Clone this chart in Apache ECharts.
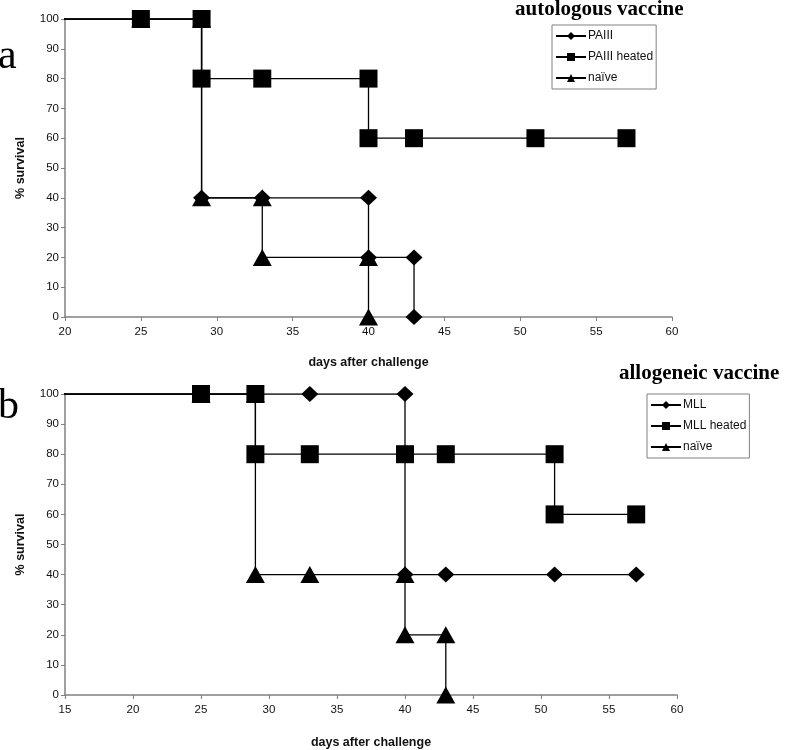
<!DOCTYPE html>
<html>
<head>
<meta charset="utf-8">
<script src="https://cdn.jsdelivr.net/npm/echarts@6/dist/echarts.min.js"></script>
<style>
html,body{margin:0;padding:0;background:#fff;}
#chart{width:787px;height:750px;}
</style>
</head>
<body>
<div id="chart"></div>
<script>
// ---- Panel a: autologous vaccine ----
const autoTitle = 'autologous vaccine';
const autoNames = ['PAIII', 'PAIII heated', 'naïve'];
const autoPAIIIDays = [0, 25, 29, 29, 33, 40, 40, 43, 43];
const autoPAIIIVals = [100, 100, 100, 40, 40, 40, 20, 20, 0];
const autoHeatedDays = [0, 25, 29, 29, 33, 40, 40, 43, 51, 57];
const autoHeatedVals = [100, 100, 100, 80, 80, 80, 60, 60, 60, 60];
const autoNaiveDays = [0, 25, 29, 29, 33, 33, 40, 40];
const autoNaiveVals = [100, 100, 100, 40, 40, 20, 20, 0];

// ---- Panel b: allogeneic vaccine ----
const alloTitle = 'allogeneic vaccine';
const alloNames = ['MLL', 'MLL heated', 'naïve'];
const alloMLLDays = [0, 25, 29, 33, 40, 40, 43, 51, 57];
const alloMLLVals = [100, 100, 100, 100, 100, 40, 40, 40, 40];
const alloHeatedDays = [0, 25, 29, 29, 33, 40, 43, 51, 51, 57];
const alloHeatedVals = [100, 100, 100, 80, 80, 80, 80, 80, 60, 60];
const alloNaiveDays = [0, 25, 29, 29, 33, 40, 40, 43, 43];
const alloNaiveVals = [100, 100, 100, 40, 40, 40, 20, 20, 0];

const xTicksTop = {min: 20, max: 60, interval: 5};
const xTicksBottom = {min: 15, max: 60, interval: 5};
const yTicks = {min: 0, max: 100, interval: 10};
const xName = 'days after challenge';
const yName = '% survival';

function pairs(xs, ys) { return xs.map((x, i) => [x, ys[i]]); }

const symbols = {
  diamond: {symbol: 'diamond', size: [17, 16]},
  square: {symbol: 'rect', size: 18},
  triangle: {symbol: 'triangle', size: [19, 17]}
};

function makeSeries(name, xs, ys, idx, sym) {
  return {
    type: 'line', name: name, xAxisIndex: idx, yAxisIndex: idx,
    data: pairs(xs, ys), clip: true,
    symbol: symbols[sym].symbol, symbolSize: symbols[sym].size,
    showAllSymbol: true,
    lineStyle: {color: '#000', width: 1.3},
    itemStyle: {color: '#000'},
    animation: false
  };
}

const axisLine = {show: true, lineStyle: {color: '#808080', width: 1.5}};
const axisLabel = {color: '#111', fontFamily: 'Liberation Sans, Arial', fontSize: 11.5};
const nameStyle = {color: '#111', fontFamily: 'Liberation Sans, Arial', fontSize: 12.5, fontWeight: 'bold'};

function xAxis(idx, t, gap) {
  return {type: 'value', gridIndex: idx, min: t.min, max: t.max, interval: t.interval,
    axisLine: axisLine, axisTick: {show: true, length: 4, lineStyle: {color: '#808080'}},
    axisLabel: Object.assign({margin: 9}, axisLabel), splitLine: {show: false},
    name: xName, nameLocation: 'middle', nameGap: gap, nameTextStyle: nameStyle};
}
function yAxis(idx) {
  return {type: 'value', gridIndex: idx, min: yTicks.min, max: yTicks.max, interval: yTicks.interval,
    axisLine: axisLine, axisTick: {show: true, length: 4, lineStyle: {color: '#808080'}},
    axisLabel: Object.assign({margin: 6}, axisLabel), splitLine: {show: false},
    name: yName, nameLocation: 'middle', nameGap: 38, nameRotate: 90, nameTextStyle: nameStyle};
}

const legendCommon = {
  orient: 'vertical', itemWidth: 30, itemHeight: 10, itemGap: 9,
  padding: [5, 3, 5, 3], borderColor: '#808080', borderWidth: 1,
  textStyle: {color: '#111', fontFamily: 'Liberation Sans, Arial', fontSize: 12, padding: [0, 0, 0, -3]},
  backgroundColor: '#fff'
};

const chart = echarts.init(document.getElementById('chart'), null, {renderer: 'canvas'});
chart.setOption({
  animation: false,
  backgroundColor: '#fff',
  grid: [
    {left: 65, top: 19, width: 607, height: 298},
    {left: 65, top: 394, width: 612, height: 308}
  ],
  xAxis: [xAxis(0, xTicksTop, 39), xAxis(1, xTicksBottom, 41)],
  yAxis: [yAxis(0), yAxis(1)],
  legend: [
    Object.assign({left: 552, top: 25, data: autoNames}, legendCommon),
    Object.assign({left: 647, top: 394, data: alloNames}, legendCommon)
  ],
  graphic: [
    {type: 'text', left: 515, top: -1, style: {text: autoTitle, font: 'bold 21px "Liberation Serif", "Times New Roman", serif', fill: '#000'}},
    {type: 'text', left: 619, top: 363, style: {text: alloTitle, font: 'bold 21px "Liberation Serif", "Times New Roman", serif', fill: '#000'}},
    {type: 'text', left: -2, top: 36, style: {text: 'a', font: '42px "Liberation Serif", "Times New Roman", serif', fill: '#000'}},
    {type: 'text', left: -2, top: 386, style: {text: 'b', font: '42px "Liberation Serif", "Times New Roman", serif', fill: '#000'}}
  ],
  series: [
    makeSeries(autoNames[0], autoPAIIIDays, autoPAIIIVals, 0, 'diamond'),
    makeSeries(autoNames[1], autoHeatedDays, autoHeatedVals, 0, 'square'),
    makeSeries(autoNames[2], autoNaiveDays, autoNaiveVals, 0, 'triangle'),
    makeSeries(alloNames[0], alloMLLDays, alloMLLVals, 1, 'diamond'),
    makeSeries(alloNames[1], alloHeatedDays, alloHeatedVals, 1, 'square'),
    makeSeries(alloNames[2], alloNaiveDays, alloNaiveVals, 1, 'triangle')
  ]
});
</script>
</body>
</html>
